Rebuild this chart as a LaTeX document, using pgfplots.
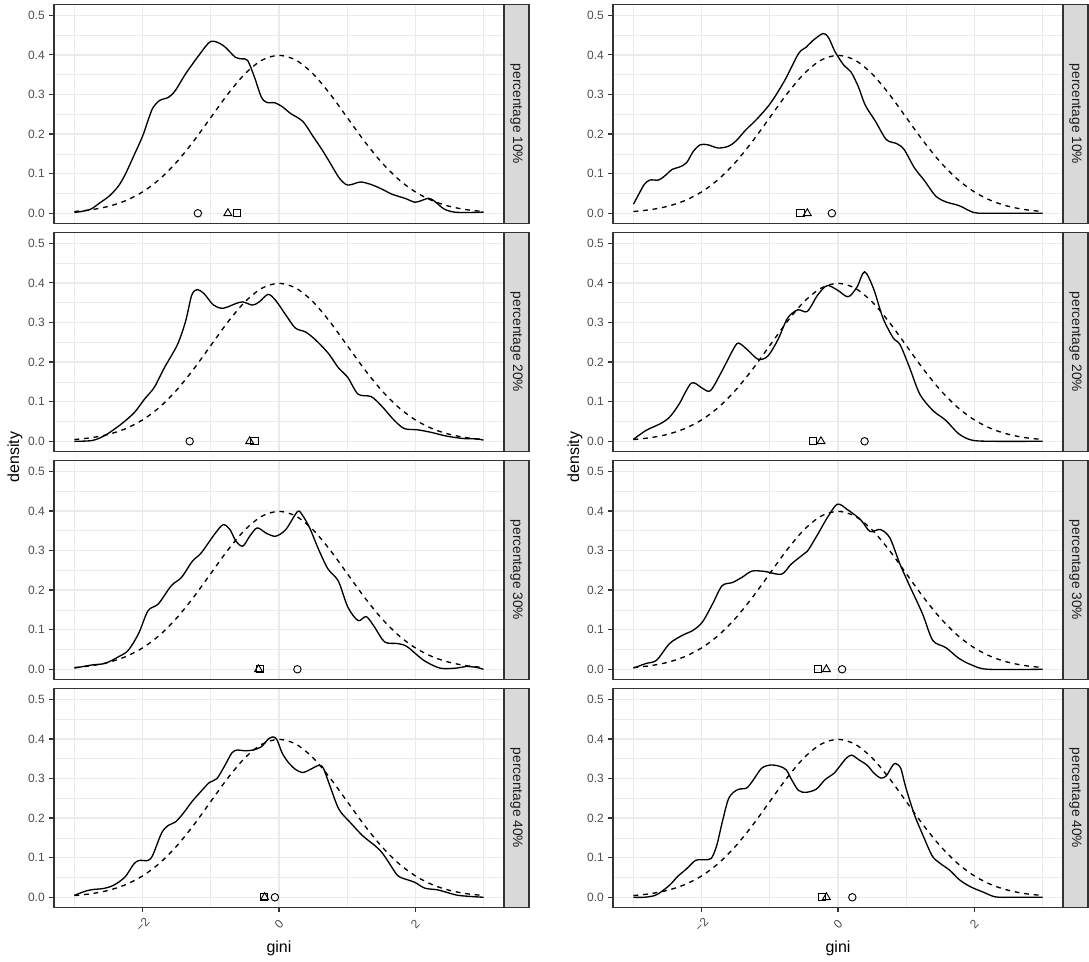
\documentclass[border=0pt]{standalone}
\usepackage{pgfplots}
\pgfplotsset{compat=1.18}
\usepackage{pgfplotstable}
\usepackage{fontspec}
\setmainfont{Liberation Sans}
\usetikzlibrary{calc}

\definecolor{ggrid}{HTML}{EBEBEB}
\definecolor{gray20}{HTML}{333333}
\definecolor{gray30}{HTML}{4D4D4D}
\definecolor{gray10}{HTML}{1A1A1A}
\definecolor{stripfill}{HTML}{D9D9D9}

% standard normal reference density
\pgfplotstableread{
x y
-3.00 0.00443
-2.75 0.00909
-2.50 0.01753
-2.25 0.03174
-2.00 0.05399
-1.75 0.08628
-1.50 0.12952
-1.25 0.18265
-1.00 0.24197
-0.75 0.30114
-0.50 0.35207
-0.25 0.38667
0.00 0.39894
0.25 0.38667
0.50 0.35207
0.75 0.30114
1.00 0.24197
1.25 0.18265
1.50 0.12952
1.75 0.08628
2.00 0.05399
2.25 0.03174
2.50 0.01753
2.75 0.00909
3.00 0.00443
}\normtab

% left column, 10%
\pgfplotstableread{
x y
-3.00 0.002
-2.78 0.009
-2.63 0.026
-2.48 0.045
-2.35 0.070
-2.25 0.100
-2.13 0.145
-2.00 0.195
-1.92 0.235
-1.85 0.266
-1.75 0.285
-1.62 0.293
-1.52 0.310
-1.37 0.352
-1.17 0.400
-1.00 0.434
-0.82 0.424
-0.64 0.394
-0.54 0.390
-0.46 0.386
-0.36 0.344
-0.26 0.294
-0.18 0.280
-0.06 0.279
0.05 0.269
0.17 0.252
0.35 0.232
0.50 0.194
0.63 0.161
0.75 0.127
0.88 0.090
0.98 0.073
1.05 0.072
1.20 0.079
1.36 0.072
1.51 0.061
1.66 0.048
1.86 0.037
1.99 0.028
2.09 0.032
2.19 0.038
2.27 0.032
2.42 0.011
2.57 0.003
2.77 0.002
3.00 0.003
}\kdeAa

% right column, 10%
\pgfplotstableread{
x y
-3.00 0.023
-2.91 0.052
-2.84 0.073
-2.76 0.084
-2.63 0.084
-2.53 0.096
-2.43 0.111
-2.32 0.117
-2.22 0.128
-2.12 0.157
-2.02 0.173
-1.91 0.173
-1.76 0.165
-1.61 0.169
-1.50 0.182
-1.35 0.211
-1.20 0.236
-0.99 0.278
-0.78 0.336
-0.58 0.403
-0.47 0.419
-0.37 0.436
-0.22 0.454
-0.14 0.444
-0.04 0.407
0.09 0.373
0.19 0.357
0.30 0.319
0.40 0.273
0.55 0.232
0.71 0.186
0.86 0.176
0.97 0.161
1.12 0.115
1.27 0.082
1.43 0.044
1.58 0.029
1.78 0.019
1.99 0.002
2.20 0.000
3.00 0.000
}\kdeBa

% left column, 20%
\pgfplotstableread{
x y
-3.00 0.000
-2.74 0.002
-2.55 0.015
-2.31 0.044
-2.12 0.073
-1.97 0.107
-1.83 0.136
-1.68 0.186
-1.49 0.244
-1.37 0.303
-1.28 0.369
-1.20 0.383
-1.10 0.373
-0.96 0.344
-0.82 0.336
-0.63 0.348
-0.53 0.352
-0.39 0.344
-0.29 0.352
-0.16 0.371
-0.05 0.356
0.10 0.319
0.24 0.286
0.39 0.276
0.53 0.257
0.72 0.223
0.87 0.186
1.01 0.161
1.16 0.119
1.35 0.113
1.50 0.090
1.69 0.053
1.84 0.032
2.03 0.029
2.22 0.023
2.46 0.013
2.70 0.007
2.89 0.006
3.00 0.003
}\kdeAb

% right column, 20%
\pgfplotstableread{
x y
-3.00 0.005
-2.81 0.028
-2.61 0.044
-2.47 0.061
-2.33 0.094
-2.15 0.147
-1.99 0.134
-1.87 0.128
-1.70 0.178
-1.55 0.228
-1.46 0.248
-1.31 0.228
-1.17 0.207
-1.03 0.215
-0.88 0.257
-0.74 0.311
-0.59 0.332
-0.45 0.328
-0.30 0.369
-0.16 0.393
-0.01 0.382
0.15 0.365
0.28 0.390
0.39 0.428
0.52 0.386
0.66 0.311
0.81 0.261
0.91 0.244
1.05 0.186
1.20 0.119
1.39 0.078
1.58 0.053
1.77 0.019
1.96 0.003
2.24 0.000
3.00 0.000
}\kdeBb

% left column, 30%
\pgfplotstableread{
x y
-3.00 0.003
-2.74 0.011
-2.55 0.015
-2.35 0.032
-2.21 0.048
-2.06 0.090
-1.92 0.148
-1.77 0.165
-1.58 0.211
-1.43 0.232
-1.27 0.273
-1.14 0.294
-0.95 0.340
-0.82 0.365
-0.72 0.353
-0.63 0.323
-0.53 0.311
-0.43 0.336
-0.32 0.357
-0.19 0.344
-0.05 0.336
0.10 0.353
0.27 0.398
0.34 0.390
0.45 0.357
0.58 0.303
0.72 0.253
0.87 0.223
1.01 0.157
1.16 0.123
1.28 0.133
1.40 0.107
1.55 0.069
1.74 0.065
1.88 0.057
2.12 0.023
2.36 0.003
2.60 0.003
2.75 0.007
2.89 0.005
3.00 0.000
}\kdeAc

% right column, 30%
\pgfplotstableread{
x y
-3.00 0.003
-2.81 0.015
-2.66 0.023
-2.47 0.065
-2.28 0.086
-2.13 0.098
-1.99 0.119
-1.84 0.165
-1.70 0.211
-1.55 0.219
-1.41 0.232
-1.26 0.248
-1.07 0.247
-0.83 0.240
-0.69 0.265
-0.54 0.286
-0.45 0.298
-0.30 0.340
-0.16 0.382
-0.01 0.417
0.14 0.403
0.33 0.378
0.47 0.348
0.62 0.353
0.76 0.332
0.91 0.265
1.05 0.211
1.24 0.140
1.39 0.073
1.58 0.055
1.77 0.028
1.96 0.011
2.20 0.000
3.00 0.000
}\kdeBc

% left column, 40%
\pgfplotstableread{
x y
-3.00 0.005
-2.83 0.016
-2.71 0.020
-2.58 0.022
-2.43 0.030
-2.26 0.051
-2.13 0.084
-2.05 0.093
-1.92 0.093
-1.85 0.107
-1.72 0.163
-1.62 0.182
-1.52 0.190
-1.40 0.213
-1.27 0.243
-1.12 0.272
-1.02 0.290
-0.91 0.300
-0.79 0.334
-0.69 0.365
-0.61 0.372
-0.51 0.370
-0.38 0.372
-0.26 0.380
-0.16 0.399
-0.09 0.405
-0.03 0.398
0.05 0.363
0.15 0.338
0.25 0.322
0.35 0.315
0.45 0.322
0.58 0.333
0.65 0.326
0.75 0.280
0.88 0.222
1.05 0.188
1.23 0.155
1.41 0.130
1.51 0.113
1.61 0.088
1.74 0.055
1.87 0.045
1.99 0.038
2.14 0.023
2.32 0.019
2.47 0.012
2.62 0.005
2.82 0.002
3.00 0.000
}\kdeAd

% right column, 40%
\pgfplotstableread{
x y
-3.00 0.000
-2.84 0.000
-2.68 0.005
-2.56 0.018
-2.45 0.034
-2.35 0.053
-2.22 0.072
-2.09 0.093
-1.96 0.095
-1.86 0.098
-1.78 0.130
-1.70 0.188
-1.60 0.251
-1.47 0.272
-1.34 0.276
-1.24 0.297
-1.12 0.326
-0.99 0.334
-0.86 0.331
-0.76 0.322
-0.68 0.297
-0.58 0.270
-0.47 0.265
-0.32 0.273
-0.19 0.297
-0.06 0.313
0.04 0.334
0.12 0.351
0.20 0.359
0.30 0.348
0.43 0.333
0.53 0.313
0.63 0.301
0.71 0.307
0.79 0.330
0.84 0.338
0.92 0.326
0.99 0.280
1.12 0.209
1.25 0.155
1.38 0.105
1.48 0.088
1.64 0.068
1.79 0.043
1.95 0.026
2.13 0.013
2.31 0.001
2.57 0.000
3.00 0.000
}\kdeBd

\pgfplotsset{
  facet/.style={
    scale only axis, width=337.5pt, height=164.55pt, anchor=south west,
    xmin=-3.3, xmax=3.3, ymin=-0.0263, ymax=0.5278,
    xtick={-2,0,2}, minor xtick={-3,-1,1,3},
    ytick={0,0.1,0.2,0.3,0.4,0.5},
    minor ytick={0.05,0.15,0.25,0.35,0.45},
    yticklabels={0.0,0.1,0.2,0.3,0.4,0.5},
    grid=both,
    major grid style={ggrid, line width=1pt},
    minor grid style={ggrid, line width=0.5pt},
    axis line style={gray20, line width=1pt},
    tick align=outside, major tick length=3.4pt, minor tick length=0pt,
    tick style={gray20, line width=0.9pt},
    xtick pos=bottom, ytick pos=left,
    tick label style={font={\fontsize{9}{10}\selectfont}, text=gray30},
  },
  toprow/.style={xticklabels={}, xtick style={draw=none}},
  botrow/.style={xticklabels={−2,0,2},
    xticklabel style={rotate=45, anchor=center, inner sep=0pt}, xticklabel shift=9pt},
  kde/.style={black, line width=1pt, smooth, tension=0.5},
  norm/.style={black, line width=1pt, dash pattern=on 3.6pt off 3.6pt, smooth},
  cmk/.style={only marks, mark=o, mark size=2.8pt, black, mark options={line width=0.7pt}},
  tmk/.style={only marks, mark=triangle, mark size=3.4pt, black, mark options={line width=0.7pt}},
  smk/.style={only marks, mark=square, mark size=2.7pt, black, mark options={line width=0.7pt}},
}

\newcommand{\strip}[3]{%
  \draw[fill=stripfill, draw=gray20, line width=1pt] (#1,#2) rectangle ++(18.75pt,164.55pt);
  \node[rotate=-90, text=gray10, font={\fontsize{10.3}{12}\selectfont}] at ($(#1,#2)+(9.375pt,82.275pt)$) {#3};
}

\begin{document}
\begin{tikzpicture}
\useasboundingbox (0,0) rectangle (816.75pt,720.75pt);

% ---- left column ----
\begin{axis}[facet, toprow, at={(40.5pt,552.975pt)}]
\addplot[norm] table {\normtab};
\addplot[kde] table {\kdeAa};
\addplot[cmk] coordinates {(-1.19,0)};
\addplot[tmk] coordinates {(-0.75,0)};
\addplot[smk] coordinates {(-0.62,0)};
\end{axis}
\begin{axis}[facet, toprow, at={(40.5pt,381.975pt)}]
\addplot[norm] table {\normtab};
\addplot[kde] table {\kdeAb};
\addplot[cmk] coordinates {(-1.31,0)};
\addplot[tmk] coordinates {(-0.43,0)};
\addplot[smk] coordinates {(-0.36,0)};
\end{axis}
\begin{axis}[facet, toprow, at={(40.5pt,210.975pt)}]
\addplot[norm] table {\normtab};
\addplot[kde] table {\kdeAc};
\addplot[cmk] coordinates {(0.27,0)};
\addplot[tmk] coordinates {(-0.30,0)};
\addplot[smk] coordinates {(-0.28,0)};
\end{axis}
\begin{axis}[facet, botrow, at={(40.5pt,39.975pt)}]
\addplot[norm] table {\normtab};
\addplot[kde] table {\kdeAd};
\addplot[cmk] coordinates {(-0.06,0)};
\addplot[tmk] coordinates {(-0.21,0)};
\addplot[smk] coordinates {(-0.22,0)};
\end{axis}

% ---- right column ----
\begin{axis}[facet, toprow, at={(459.75pt,552.975pt)}]
\addplot[norm] table {\normtab};
\addplot[kde] table {\kdeBa};
\addplot[cmk] coordinates {(-0.09,0)};
\addplot[tmk] coordinates {(-0.45,0)};
\addplot[smk] coordinates {(-0.55,0)};
\end{axis}
\begin{axis}[facet, toprow, at={(459.75pt,381.975pt)}]
\addplot[norm] table {\normtab};
\addplot[kde] table {\kdeBb};
\addplot[cmk] coordinates {(0.39,0)};
\addplot[tmk] coordinates {(-0.25,0)};
\addplot[smk] coordinates {(-0.37,0)};
\end{axis}
\begin{axis}[facet, toprow, at={(459.75pt,210.975pt)}]
\addplot[norm] table {\normtab};
\addplot[kde] table {\kdeBc};
\addplot[cmk] coordinates {(0.06,0)};
\addplot[tmk] coordinates {(-0.17,0)};
\addplot[smk] coordinates {(-0.29,0)};
\end{axis}
\begin{axis}[facet, botrow, at={(459.75pt,39.975pt)}]
\addplot[norm] table {\normtab};
\addplot[kde] table {\kdeBd};
\addplot[cmk] coordinates {(0.21,0)};
\addplot[tmk] coordinates {(-0.17,0)};
\addplot[smk] coordinates {(-0.23,0)};
\end{axis}

% ---- strips ----
\strip{378pt}{552.975pt}{percentage 10\%}
\strip{378pt}{381.975pt}{percentage 20\%}
\strip{378pt}{210.975pt}{percentage 30\%}
\strip{378pt}{39.975pt}{percentage 40\%}
\strip{797.25pt}{552.975pt}{percentage 10\%}
\strip{797.25pt}{381.975pt}{percentage 20\%}
\strip{797.25pt}{210.975pt}{percentage 30\%}
\strip{797.25pt}{39.975pt}{percentage 40\%}

% ---- axis titles ----
\node[rotate=90, font={\fontsize{12}{14}\selectfont}] at (11.25pt,378pt) {density};
\node[rotate=90, font={\fontsize{12}{14}\selectfont}] at (431.25pt,378pt) {density};
\node[font={\fontsize{12}{14}\selectfont}] at (209.25pt,9.75pt) {gini};
\node[font={\fontsize{12}{14}\selectfont}] at (628.5pt,9.75pt) {gini};
\end{tikzpicture}
\end{document}
